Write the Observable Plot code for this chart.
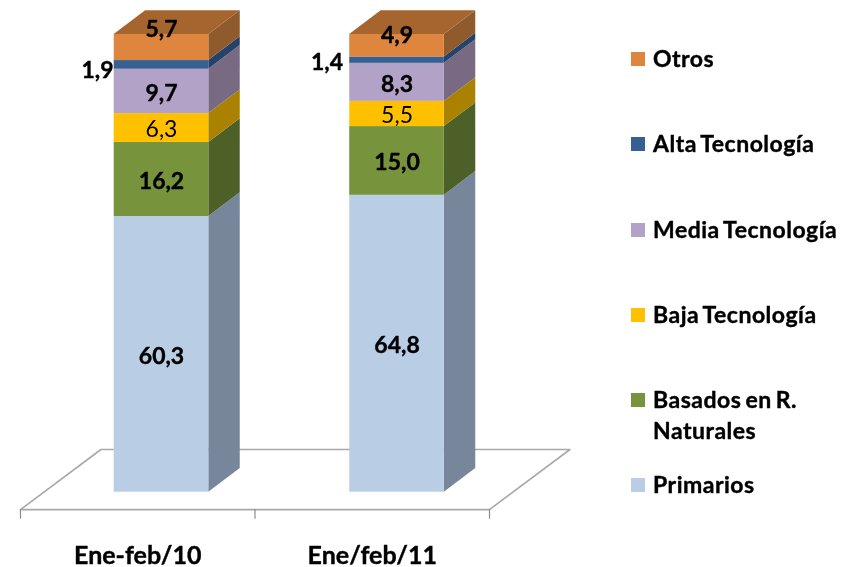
<!DOCTYPE html>
<html><head><meta charset="utf-8">
<script src="https://cdn.jsdelivr.net/npm/d3@7"></script>
<script src="https://cdn.jsdelivr.net/npm/@observablehq/plot@0.6"></script>
<style>
html,body{margin:0;padding:0;background:#fff;}
#chart{position:relative;width:849px;height:567px;overflow:hidden;font-family:Lato,sans-serif;filter:blur(.35px);}
#chart svg{display:block;}
.legend-row{position:absolute;left:631px;display:flex;align-items:flex-start;color:#000;font-weight:700;font-size:23px;line-height:31px;white-space:pre;letter-spacing:.5px;word-spacing:-2px;-webkit-text-stroke:.4px #000;}
.legend-row i{display:block;width:14px;height:14px;margin:8.5px 8px 0 0;}
</style></head><body>
<div id="chart"></div>
<script>
const categories = ["Ene-feb/10", "Ene/feb/11"];
const series = ["Primarios", "Basados en R. Naturales", "Baja Tecnología", "Media Tecnología", "Alta Tecnología", "Otros"];
const valuesEneFeb10 = [60.3, 16.2, 6.3, 9.7, 1.9, 5.7];
const valuesEneFeb11 = [64.8, 15.0, 5.5, 8.3, 1.4, 4.9];
const frontColors = ["#B9CDE5", "#77933C", "#FFC000", "#B3A2C7", "#376092", "#DF863E"];
const sideColors  = ["#77869A", "#4D6028", "#AB8200", "#776A82", "#24426A", "#8F5A2C"];
const topColor = "#A6652F";
const legendRows = [
  ["Otros", 5, 43],
  ["Alta Tecnología", 4, 128],
  ["Media Tecnología", 3, 214],
  ["Baja Tecnología", 2, 299],
  ["Basados en R.\nNaturales", 1, 384],
  ["Primarios", 0, 469]
];
// label nudges in px, [dx, dy] per category and series
const labelNudge = {
  "0-4": [-64, 5.5], "1-4": [-70, 2.5],
  "0-5": [0, -18], "1-5": [0, -10]
};

const barStarts = [0.3996, 1.404], barWidth = 0.4034, depthX = 0.134, depthY = 5.18;
const columns = [valuesEneFeb10, valuesEneFeb11];

const rows = [];
columns.forEach((vals, c) => {
  const total = d3.sum(vals);
  let acc = 0;
  vals.forEach((v, s) => {
    const y1 = acc / total * 100; acc += v;
    const y2 = acc / total * 100;
    const x1 = barStarts[c], x2 = x1 + barWidth;
    rows.push({c, s, v, x1, x2, y1, y2, label: v.toFixed(1).replace(".", ",")});
  });
});
const sidePts = rows.flatMap(r => [
  {k: `${r.c}-${r.s}`, s: r.s, x: r.x2, y1: r.y1, y2: r.y2},
  {k: `${r.c}-${r.s}`, s: r.s, x: r.x2 + depthX, y1: r.y1 + depthY, y2: r.y2 + depthY}
]);
const topPts = columns.flatMap((_, c) => {
  const a = barStarts[c], b = a + barWidth;
  return [
    {c, x: a, y1: 100, y2: 100},
    {c, x: a + depthX, y1: 100, y2: 100 + depthY},
    {c, x: b, y1: 100, y2: 100 + depthY},
    {c, x: b + depthX, y1: 100 + depthY, y2: 100 + depthY}
  ];
});
const floorY = -3.8, floorBackY = 9.33, tickEndY = -5.9, floorSkew = 0.343;
const floorLine = [
  {x: 0, y: floorY}, {x: floorSkew, y: floorBackY}, {x: 2 + floorSkew, y: floorBackY},
  {x: 2, y: floorY}, {x: 0, y: floorY}
];
const centerX = d => (d.x1 + d.x2) / 2, centerY = d => (d.y1 + d.y2) / 2;
const textStyle = {x: centerX, y: centerY, text: "label", fontSize: 23, fill: "#000"};
const heavy = {fontWeight: 700, stroke: "#000", strokeWidth: 0.4};

const plot = Plot.plot({
  width: 849, height: 567,
  marginTop: 0, marginRight: 0, marginBottom: 0, marginLeft: 0,
  x: {type: "linear", domain: [0, 2], range: [20, 489], axis: null},
  y: {type: "linear", domain: [0, 100], range: [491.7, 34], axis: null},
  color: {type: "identity"},
  style: {background: "#fff", fontFamily: "Lato, sans-serif"},
  marks: [
    Plot.line(floorLine, {x: "x", y: "y", stroke: "#A8A8A8", strokeWidth: 1.6}),
    Plot.ruleX([0, 1, 2], {y1: floorY, y2: tickEndY, stroke: "#8C8C8C", strokeWidth: 1.2}),
    Plot.areaY(sidePts, {x: "x", y1: "y1", y2: "y2", z: "k", fill: d => sideColors[d.s]}),
    Plot.areaY(topPts, {x: "x", y1: "y1", y2: "y2", z: "c", fill: () => topColor}),
    Plot.rect(rows, {x1: "x1", x2: "x2", y1: "y1", y2: "y2", fill: d => frontColors[d.s]}),
    Plot.text(rows.filter(d => d.s !== 2 && !labelNudge[`${d.c}-${d.s}`]), {...textStyle, ...heavy, dy: 2}),
    Plot.text(rows.filter(d => d.s === 2), {...textStyle, dy: 2, fontWeight: 400}),
    ...rows.filter(d => labelNudge[`${d.c}-${d.s}`]).map(d => {
      const [dx, dy] = labelNudge[`${d.c}-${d.s}`];
      return Plot.text([d], {...textStyle, ...heavy, dx, dy});
    }),
    Plot.text(categories, {
      x: (d, i) => i + 0.5, text: d => d, frameAnchor: "bottom", dy: -4,
      fontSize: 25, fill: "#000", ...heavy
    })
  ]
});
const host = document.getElementById("chart");
host.appendChild(plot);
for (const [name, s, top] of legendRows) {
  const row = document.createElement("div");
  row.className = "legend-row";
  row.style.top = top + "px";
  const sw = document.createElement("i");
  sw.style.background = frontColors[s];
  const t = document.createElement("span");
  t.textContent = name;
  row.append(sw, t);
  host.appendChild(row);
}
</script>
</body></html>
